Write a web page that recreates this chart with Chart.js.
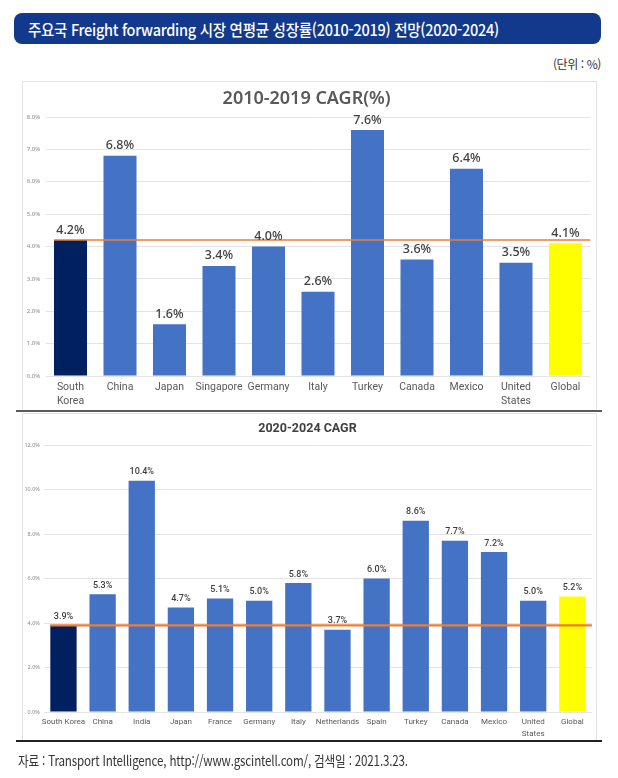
<!DOCTYPE html>
<html lang="ko">
<head>
<meta charset="utf-8">
<title>주요국 Freight forwarding 시장 연평균 성장률</title>
<script src="https://cdn.jsdelivr.net/npm/chart.js@4"></script>
<style>
  body { margin: 0; background: #fff; }
  #page { position: relative; width: 618px; height: 778px; overflow: hidden; }
  #header {
    position: absolute; left: 14px; top: 13px; width: 587px; height: 31px;
    background: #12398b; border-radius: 8px;
  }
  #header span {
    position: absolute; left: 14px; top: 4px; color: #fff; white-space: nowrap;
    font: 500 16px "Noto Sans CJK KR", sans-serif; letter-spacing: -0.3px;
    transform-origin: left center;
  }
  #unit {
    position: absolute; right: 17px; top: 55px; color: #333;
    font: 12px "Noto Sans CJK KR", sans-serif; letter-spacing: -0.4px;
  }
  .panel { position: absolute; left: 21.5px; width: 573px; border: 1px solid #e3e3e3; border-bottom: none; background: #fff; }
  #panel1 { top: 81px; height: 327px; }
  #panel2 { top: 413px; height: 327px; }
  .rule { position: absolute; left: 16px; width: 586px; height: 2px; }
  #rule1 { top: 410px; background: #5a5a5a; }
  #rule2 { top: 740px; background: #222; }
  #source {
    position: absolute; left: 18px; top: 750px; color: #333; white-space: nowrap;
    font: 14px "Noto Sans CJK KR", sans-serif; letter-spacing: -0.2px;
    transform-origin: left center;
  }
</style>
</head>
<body>
<div id="page">
  <div id="header"><span id="header-text">주요국 Freight forwarding 시장 연평균 성장률(2010-2019) 전망(2020-2024)</span></div>
  <div id="unit">(단위 : %)</div>
  <div class="panel" id="panel1"><canvas id="chart-past"></canvas></div>
  <div class="rule" id="rule1"></div>
  <div class="panel" id="panel2"><canvas id="chart-outlook"></canvas></div>
  <div class="rule" id="rule2"></div>
  <div id="source">자료 : Transport Intelligence, http://www.gscintell.com/, 검색일 : 2021.3.23.</div>
</div>
<script>
// Data: 2010-2019 CAGR
const pastCountries = [['South', 'Korea'], 'China', 'Japan', 'Singapore', 'Germany', 'Italy', 'Turkey', 'Canada', 'Mexico', ['United', 'States'], 'Global'];
const pastCagr = [4.2, 6.8, 1.6, 3.4, 4.0, 2.6, 7.6, 3.6, 6.4, 3.5, 4.1];
const pastKoreaLine = 4.2;
const pastTicks = [0, 1, 2, 3, 4, 5, 6, 7, 8];

// Data: 2020-2024 CAGR (outlook)
const outlookCountries = ['South Korea', 'China', 'India', 'Japan', 'France', 'Germany', 'Italy', 'Netherlands', 'Spain', 'Turkey', 'Canada', 'Mexico', ['United', 'States'], 'Global'];
const outlookCagr = [3.9, 5.3, 10.4, 4.7, 5.1, 5.0, 5.8, 3.7, 6.0, 8.6, 7.7, 7.2, 5.0, 5.2];
const outlookKoreaLine = 3.9;
const outlookTicks = [0, 2, 4, 6, 8, 10, 12];

const BLUE = '#4472c4';
const NAVY = '#002060';
const YELLOW = '#ffff00';
const ORANGE = '#ed7d31';

// Squeeze a text line horizontally to the width it has in the original
function fitWidth(id, width) {
  const el = document.getElementById(id);
  el.style.transform = 'scaleX(' + (width / el.offsetWidth) + ')';
}
fitWidth('header-text', 471);
fitWidth('source', 390);

function barColors(labels) {
  return labels.map((label, i) => {
    if (i === 0) return NAVY;
    if (label === 'Global') return YELLOW;
    return BLUE;
  });
}

// Orange reference line at Korea's value, then value labels above bars
const overlayPlugin = {
  id: 'overlay',
  afterDatasetsDraw(chart, args, opts) {
    const { ctx, chartArea } = chart;
    const meta = chart.getDatasetMeta(0);
    const y = chart.scales.y.getPixelForValue(opts.lineValue);
    const first = meta.data[0];
    ctx.save();
    ctx.strokeStyle = ORANGE;
    ctx.lineWidth = opts.lineWidth;
    ctx.beginPath();
    ctx.moveTo(first.x - first.width / 2, y);
    ctx.lineTo(chartArea.right, y);
    ctx.stroke();

    ctx.fillStyle = '#404040';
    ctx.font = opts.labelFont;
    ctx.textAlign = 'center';
    ctx.textBaseline = 'middle';
    const values = chart.data.datasets[0].data;
    meta.data.forEach((bar, i) => {
      ctx.fillText(values[i].toFixed(1) + '%', bar.x, bar.y - opts.labelGap);
    });
    ctx.restore();
  }
};

function makeChart(canvasId, cfg) {
  return new Chart(document.getElementById(canvasId), {
    type: 'bar',
    data: {
      labels: cfg.labels,
      datasets: [{
        data: cfg.values,
        backgroundColor: barColors(cfg.labels),
        categoryPercentage: 1,
        barPercentage: cfg.barPercentage
      }]
    },
    options: {
      responsive: true,
      maintainAspectRatio: false,
      animation: false,
      layout: { padding: { left: 0, right: cfg.rightPad, top: 0, bottom: 0 } },
      plugins: {
        legend: { display: false },
        tooltip: { enabled: false },
        title: {
          display: true,
          text: cfg.title,
          color: cfg.titleColor,
          font: cfg.titleFont,
          padding: cfg.titlePadding
        },
        overlay: cfg.overlay
      },
      scales: {
        x: {
          grid: { display: false, drawTicks: false },
          border: { display: false },
          ticks: {
            autoSkip: false,
            maxRotation: 0,
            color: '#595959',
            padding: cfg.xPad,
            font: cfg.xFont
          },
          afterFit: (scale) => { scale.height = cfg.xHeight; }
        },
        y: {
          min: cfg.ticks[0],
          max: cfg.ticks[cfg.ticks.length - 1],
          afterBuildTicks: (scale) => { scale.ticks = cfg.ticks.map((v) => ({ value: v })); },
          grid: { color: '#e4e4e4', drawTicks: false },
          border: { display: false },
          ticks: {
            color: '#8a8a8a',
            padding: cfg.yPad,
            font: { size: cfg.yFontSize, family: 'Noto Sans' },
            callback: (v) => v.toFixed(1) + '%'
          },
          afterFit: (scale) => { scale.width = cfg.yWidth; }
        }
      }
    },
    plugins: [overlayPlugin]
  });
}

makeChart('chart-past', {
  labels: pastCountries,
  values: pastCagr,
  ticks: pastTicks,
  title: '2010-2019 CAGR(%)',
  titleColor: '#595959',
  titleFont: { size: 18, weight: '600', family: 'Noto Sans', lineHeight: 1.2 },
  titlePadding: { top: 5.6, bottom: 7.8 },
  barPercentage: 0.667,
  rightPad: 5.75,
  xHeight: 33,
  xPad: 4,
  xFont: { size: 10.5, family: 'Roboto', lineHeight: 1.36 },
  yWidth: 22.75,
  yPad: 5.5,
  yFontSize: 6,
  overlay: { lineValue: pastKoreaLine, lineWidth: 1.5, labelGap: 10, labelFont: "500 12.5px 'Noto Sans'" }
});

makeChart('chart-outlook', {
  labels: outlookCountries,
  values: outlookCagr,
  ticks: outlookTicks,
  title: '2020-2024 CAGR',
  titleColor: '#404040',
  titleFont: { size: 12.5, weight: 'bold', family: 'Roboto', lineHeight: 1.2 },
  titlePadding: { top: 7.5, bottom: 8.7 },
  barPercentage: 0.672,
  rightPad: 4.1,
  xHeight: 29,
  xPad: 4.2,
  xFont: { size: 8, family: 'Roboto', lineHeight: 1.45 },
  yWidth: 20.9,
  yPad: 4,
  yFontSize: 5.5,
  overlay: { lineValue: outlookKoreaLine, lineWidth: 2.2, labelGap: 8.6, labelFont: "500 9px 'Roboto'" }
});
</script>
</body>
</html>
